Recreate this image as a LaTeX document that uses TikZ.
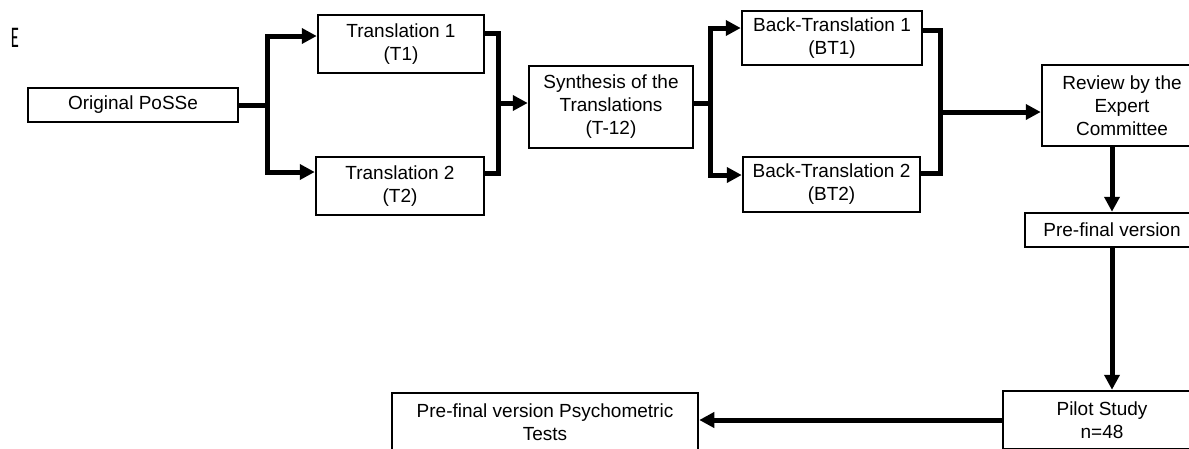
\documentclass[tikz,border=0pt]{standalone}
\usepackage{fontspec}
\setmainfont{Liberation Sans}
\newfontfamily\labelfont{Carlito}
\usetikzlibrary{arrows.meta,calc}
\begin{document}
\begin{tikzpicture}[x=1pt,y=-1pt]
\tikzstyle{etape}=[draw,line width=2.5pt,align=center,inner sep=0pt,font=\fontsize{19}{23}\selectfont]
\tikzstyle{fleche}=[line width=5pt,-{Triangle[length=15pt,width=15pt]}]
\tikzstyle{trait}=[line width=5pt]

\clip (0,0) rectangle (1189,448);
\useasboundingbox (0,0) rectangle (1189,448);

\node[font=\labelfont\fontsize{30}{30}\selectfont,xscale=0.55] (lettre) at (15,38) {E};

% Traductions
\node[etape,minimum width=210pt,minimum height=34pt] (orig) at (133,105) {Original PoSSe};
\node[etape,minimum width=166pt,minimum height=58pt] (t1) at (401,44) {Translation 1\\(T1)};
\node[etape,minimum width=168pt,minimum height=58pt] (t2) at (400,186) {Translation 2\\(T2)};
\coordinate (b1) at (267,105);
\draw[trait] (orig.east) -- (b1);
\draw[fleche] (b1) |- ([yshift=8pt]t1.west);
\draw[fleche] (b1) |- ([yshift=14pt]t2.west);

% Synthese
\node[etape,minimum width=164pt,minimum height=82pt] (syn) at (611,107) {Synthesis of the\\Translations\\(T-12)};
\coordinate (m1) at (498,103);
\draw[trait] ([yshift=11pt]t1.east) -| (m1) |- ([yshift=13pt]t2.east);
\draw[fleche] (m1) -- (m1 -| syn.west);

% Retro-traductions
\node[etape,minimum width=180pt,minimum height=54pt] (bt1) at (832,38) {Back-Translation 1\\(BT1)};
\node[etape,minimum width=177pt,minimum height=55pt] (bt2) at (831.5,184.5) {Back-Translation 2\\(BT2)};
\coordinate (b2) at (710,103);
\draw[trait] (b2 -| syn.east) -- (b2);
\draw[fleche] (b2) |- ([yshift=10pt]bt1.west);
\draw[fleche] (b2) |- ([yshift=9.5pt]bt2.west);

% Comite
\node[etape,minimum width=160pt,minimum height=81pt] (rev) at (1122,105.5) {Review by the\\Expert\\Committee};
\coordinate (m2) at (940,112);
\draw[trait] ([yshift=8pt]bt1.east) -| (m2) |- ([yshift=11.5pt]bt2.east);
\draw[fleche] (m2) -- (m2 -| rev.west);

\node[etape,minimum width=174pt,minimum height=34pt] (pre) at (1112,230) {Pre-final version};
\draw[fleche] (pre.north |- rev.south) -- (pre.north);

% Etude pilote
\node[etape,minimum width=198pt,minimum height=58pt] (pilot) at (1102,420) {Pilot Study\\n=48};
\draw[fleche] (pre.south) -- (pre.south |- pilot.north);

\node[etape,minimum width=306pt,minimum height=58pt] (psy) at (545,422) {Pre-final version Psychometric\\Tests};
\draw[fleche] (pilot.west) -- (pilot.west -| psy.east);

\end{tikzpicture}
\end{document}
